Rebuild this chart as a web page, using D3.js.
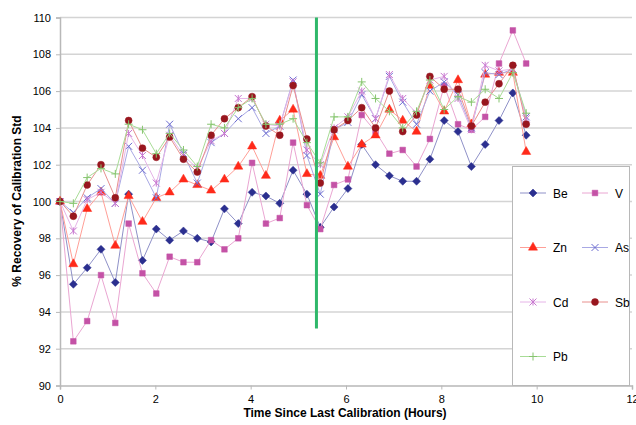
<!DOCTYPE html>
<html>
<head>
<meta charset="utf-8">
<script src="https://cdn.jsdelivr.net/npm/d3@7"></script>
<style>
  body { margin: 0; background: #fff; }
  text { font-family: "Liberation Sans", Arial, sans-serif; fill: #000; }
</style>
</head>
<body>
<svg id="chart" width="636" height="425"></svg>
<script>
// hours since last calibration
var hours = [0, 0.28, 0.57, 0.86, 1.16, 1.44, 1.73, 2.02, 2.30, 2.59, 2.88, 3.17, 3.45, 3.74, 4.03, 4.32, 4.61, 4.89,
  5.18, 5.46, 5.75, 6.04, 6.33, 6.62, 6.91, 7.19, 7.48, 7.76, 8.06, 8.35, 8.63, 8.92, 9.21, 9.50, 9.78];

var be = [100, 95.5, 96.4, 97.4, 95.6, 100.4, 96.8, 98.5, 97.9, 98.4, 98.0, 97.8, 99.6, 98.8, 100.5, 100.3, 99.9, 101.7,
  100.4, 98.6, 99.7, 100.7, 103.1, 102.0, 101.4, 101.1, 101.1, 102.3, 104.4, 103.8, 101.9, 103.1, 104.4, 105.9, 103.6];
var v = [100, 92.4, 93.5, 96.0, 93.4, 98.8, 96.1, 95.0, 97.0, 96.7, 96.7, 97.9, 97.4, 98.0, 102.1, 98.8, 99.1, 103.2,
  99.8, 98.5, 100.9, 101.2, 104.7, 103.8, 102.6, 102.8, 101.9, 103.4, 106.3, 104.2, 103.9, 104.6, 107.5, 109.3, 107.5];
var zn = [100, 96.6, 99.6, 100.5, 97.6, 100.3, 98.9, 100.2, 100.5, 101.2, 100.9, 100.6, 101.2, 101.9, 103.0, 101.4, 104.4, 105.0,
  101.5, 101.4, 103.5, 101.9, 103.1, 103.6, 105.0, 104.4, 103.8, 106.3, 104.9, 106.6, 104.2, 106.9, 107.0, 107.0, 102.7];
var as = [100, 99.4, 100.2, 100.7, 99.9, 103.0, 101.7, 100.2, 104.2, 102.6, 101.0, 103.2, 103.7, 104.5, 105.1, 103.7, 104.1, 106.6,
  102.5, 100.4, 103.9, 104.3, 105.8, 104.5, 106.8, 105.4, 104.2, 106.0, 106.5, 105.8, 104.0, 107.0, 106.9, 107.2, 104.6];
var cd = [100, 98.4, 100.1, 100.5, 99.9, 103.7, 102.5, 101.0, 103.6, 102.5, 101.8, 103.3, 103.7, 105.6, 105.6, 104.2, 104.1, 106.5,
  102.8, 102.0, 104.0, 104.6, 106.0, 104.5, 106.9, 105.6, 104.8, 106.6, 106.8, 105.6, 103.9, 107.4, 107.1, 107.2, 104.5];
var sb = [100, 99.2, 100.9, 102.0, 100.2, 104.4, 102.9, 102.4, 103.5, 102.3, 101.6, 103.6, 104.5, 105.1, 105.7, 104.1, 103.6, 106.3,
  103.4, 101.0, 103.9, 104.4, 105.1, 104.0, 106.0, 103.8, 104.7, 106.8, 106.1, 106.1, 104.1, 105.4, 106.4, 107.4, 104.2];
var pb = [100, 99.9, 101.3, 101.8, 101.5, 104.2, 103.9, 102.6, 103.7, 102.8, 101.9, 104.2, 104.0, 105.1, 105.6, 104.2, 104.2, 104.5,
  103.2, 102.1, 104.6, 104.6, 106.5, 105.6, 104.9, 104.0, 104.9, 106.6, 105.0, 105.7, 105.4, 106.1, 105.6, 107.0, 104.8];

var xTicks = [0, 2, 4, 6, 8, 10, 12];
var yTicks = [90, 92, 94, 96, 98, 100, 102, 104, 106, 108, 110];
var calibLine = { hour: 5.38, from: 93.1, to: 110 };

var series = [
  { name: "Be", values: be, marker: "diamond", fill: "#2b2f8f", line: "#8f91c8" },
  { name: "V", values: v, marker: "square", fill: "#c452a6", line: "#eaa6d2" },
  { name: "Zn", values: zn, marker: "triangle", fill: "#ff2a1a", line: "#ff9f97" },
  { name: "As", values: as, marker: "x", fill: "#6c6cd0", line: "#a8a8e4" },
  { name: "Cd", values: cd, marker: "star", fill: "#c878d0", line: "#e6b4e8" },
  { name: "Sb", values: sb, marker: "circle", fill: "#98161e", line: "#e8908e" },
  { name: "Pb", values: pb, marker: "plus", fill: "#86c46e", line: "#a8dc96" }
];

var svg = d3.select("#chart"),
  margin = { top: 17.5, right: 4, bottom: 39.5, left: 60 },
  width = +svg.attr("width"),
  height = +svg.attr("height");

var x = d3.scaleLinear().domain([0, 12]).range([margin.left, width - margin.right]);
var y = d3.scaleLinear().domain([90, 110]).range([height - margin.bottom, margin.top]);

// grid
svg.append("g")
  .selectAll("line")
  .data(yTicks.slice(1))
  .join("line")
  .attr("x1", x(0)).attr("x2", x(12))
  .attr("y1", d => y(d)).attr("y2", d => y(d))
  .style("stroke", "#d4d4d4")
  .style("stroke-width", "1.5px");

// axes
var xAxis = svg.append("g")
  .attr("transform", "translate(0," + y(90) + ")")
  .call(d3.axisBottom(x).tickValues(xTicks).tickSize(4).tickPadding(6).tickFormat(d3.format("d")));
var yAxis = svg.append("g")
  .attr("transform", "translate(" + x(0) + ",0)")
  .call(d3.axisLeft(y).tickValues(yTicks).tickSize(4).tickPadding(5).tickFormat(d3.format("d")));
[xAxis, yAxis].forEach(a => {
  a.select(".domain").style("stroke", "#b8b8b8").style("stroke-width", "1.5px");
  a.selectAll(".tick line").style("stroke", "#b8b8b8");
  a.selectAll(".tick text").style("font-size", "11px").style("font-family", "Liberation Sans, Arial, sans-serif");
});

function markerPath(type) {
  if (type === "diamond") return "M0,-4L4,0L0,4L-4,0Z";
  if (type === "square") return d3.symbol(d3.symbolSquare, 32)();
  if (type === "triangle") return d3.symbol(d3.symbolTriangle, 36)();
  if (type === "circle") return d3.symbol(d3.symbolCircle, 38)();
  if (type === "x") return "M-3.5,-3.5L3.5,3.5M-3.5,3.5L3.5,-3.5";
  if (type === "star") return "M-3.5,-3.5L3.5,3.5M-3.5,3.5L3.5,-3.5M0,-3.5L0,3.5";
  return "M-4,0L4,0M0,-4L0,4";
}
function isStroke(type) { return type === "x" || type === "star" || type === "plus"; }

var line = d3.line()
  .x((d, i) => x(hours[i]))
  .y(d => y(d));

series.forEach(s => {
  var g = svg.append("g").attr("class", "series");
  g.append("path")
    .datum(s.values)
    .attr("d", line)
    .style("fill", "none")
    .style("stroke", s.line)
    .style("stroke-width", "1px");
  g.selectAll("path.mk")
    .data(s.values)
    .join("path")
    .attr("class", "mk")
    .attr("transform", (d, i) => "translate(" + x(hours[i]) + "," + y(d) + ")")
    .attr("d", markerPath(s.marker))
    .style("fill", isStroke(s.marker) ? "none" : s.fill)
    .style("stroke", s.fill)
    .style("stroke-width", isStroke(s.marker) ? "1px" : "0.5px");
});

// calibration marker line
svg.append("line")
  .attr("x1", x(calibLine.hour)).attr("x2", x(calibLine.hour))
  .attr("y1", y(calibLine.to)).attr("y2", y(calibLine.from))
  .style("stroke", "#2fb86a")
  .style("stroke-width", "3px");

// legend
var legend = svg.append("g");
legend.append("rect")
  .attr("x", 512.5).attr("y", 166.5)
  .attr("width", 117).attr("height", 219)
  .style("fill", "#fff")
  .style("stroke", "#b8b8b8")
  .style("stroke-width", "1px");

series.forEach((s, i) => {
  var col = i % 2, row = Math.floor(i / 2);
  var lx = 520 + col * 62, ly = 193 + row * 54.5;
  var lg = legend.append("g").attr("transform", "translate(" + lx + "," + ly + ")");
  lg.append("line").attr("x1", 0).attr("x2", 26).attr("y1", 0).attr("y2", 0)
    .style("stroke", s.line).style("stroke-width", "1px");
  lg.append("path")
    .attr("transform", "translate(13,0)")
    .attr("d", markerPath(s.marker))
    .style("fill", isStroke(s.marker) ? "none" : s.fill)
    .style("stroke", s.fill)
    .style("stroke-width", isStroke(s.marker) ? "1px" : "0.5px");
  lg.append("text")
    .attr("x", 33).attr("y", 4.5)
    .style("font-size", "12px")
    .text(s.name);
});

// axis titles
svg.append("text")
  .attr("x", 345).attr("y", 417)
  .attr("text-anchor", "middle")
  .style("font-size", "12px")
  .style("font-weight", "bold")
  .text("Time Since Last Calibration (Hours)");

svg.append("text")
  .attr("transform", "translate(21,201) rotate(-90)")
  .attr("text-anchor", "middle")
  .style("font-size", "12px")
  .style("font-weight", "bold")
  .text("% Recovery of Calibration Std");
</script>
</body>
</html>
